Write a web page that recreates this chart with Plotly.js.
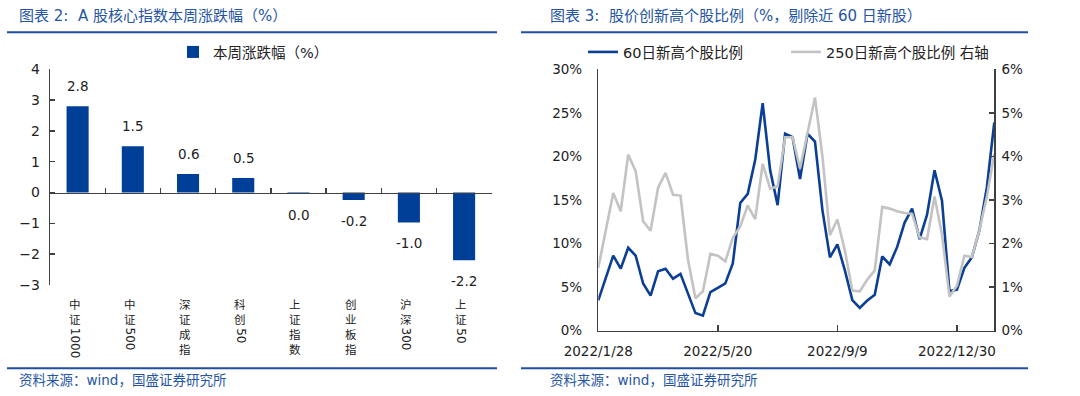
<!DOCTYPE html>
<html>
<head>
<meta charset="utf-8">
<script src="https://cdn.plot.ly/plotly-3.0.1.min.js"></script>
<style>
html,body{margin:0;padding:0;background:#fff;}
#chart{width:1080px;height:396px;}
</style>
</head>
<body>
<div id="chart"></div>
<script>
// ---------------- data ----------------
const indexNames = ['中证1000','中证500','深证成指','科创50','上证指数','创业板指','沪深300','上证50'];
const weeklyChange = [2.8, 1.5, 0.6, 0.47, -0.04, -0.24, -0.97, -2.2];

const weekDates = [
 '2022/1/28','2022/2/4','2022/2/11','2022/2/18','2022/2/25','2022/3/4','2022/3/11','2022/3/18','2022/3/25',
 '2022/4/1','2022/4/8','2022/4/15','2022/4/22','2022/4/29','2022/5/6','2022/5/13','2022/5/20','2022/5/27',
 '2022/6/3','2022/6/10','2022/6/17','2022/6/24','2022/7/1','2022/7/8','2022/7/15','2022/7/22','2022/7/29',
 '2022/8/5','2022/8/12','2022/8/19','2022/8/26','2022/9/2','2022/9/9','2022/9/16','2022/9/23','2022/9/30',
 '2022/10/7','2022/10/14','2022/10/21','2022/10/28','2022/11/4','2022/11/11','2022/11/18','2022/11/25',
 '2022/12/2','2022/12/9','2022/12/16','2022/12/23','2022/12/30','2023/1/6','2023/1/13','2023/1/20',
 '2023/2/3','2023/2/10'];
const dateTickLabels = ['2022/1/28','2022/5/20','2022/9/9','2022/12/30'];

// 60日新高个股比例 (%), left axis
const newHigh60 = [3.45,6.0,8.6,7.1,9.5,8.6,5.4,4.0,6.8,7.1,5.95,6.5,4.2,2.0,1.7,4.4,4.9,5.4,7.7,
 14.65,15.7,19.6,26.1,18.4,14.4,22.6,22.2,17.4,22.6,21.7,13.8,8.4,9.9,6.9,3.5,2.6,3.45,4.1,8.5,
 7.6,9.6,12.4,14.0,10.5,13.3,18.4,14.9,4.5,4.7,7.2,8.4,11.5,16.4,23.9];
// 250日新高个股比例 (%), right axis
const newHigh250 = [1.44,2.3,3.16,2.74,4.04,3.66,2.51,2.29,3.28,3.62,3.12,3.10,1.63,0.74,0.90,1.76,1.72,1.59,2.13,
 2.39,2.87,2.56,3.83,3.26,3.31,4.44,4.44,3.72,4.5,5.35,4.0,2.19,2.55,1.84,0.92,0.90,1.17,1.38,2.84,
 2.8,2.74,2.7,2.68,2.14,2.1,3.08,2.2,0.78,1.03,1.72,1.69,2.3,3.07,4.06];

// ---------------- style ----------------
const W = 1080, H = 396;
const FONT = 'DejaVu Sans, Noto Sans CJK SC, sans-serif';
const CJK = 'Noto Sans CJK SC, DejaVu Sans, sans-serif';
const BAR_BLUE = '#003f98';
const LINE_BLUE = '#0b3f95';
const GRAY = '#c3c3c3';
const AXIS = '#404040';
const TITLE_BLUE = '#2656a3';
const px = v => v / W;
const py = v => 1 - v / H;

const yDomL = [py(285), py(69.3)];
const yRangeL = [-3, 4];
const zeroPos = yDomL[0] + (0 - yRangeL[0]) / (yRangeL[1] - yRangeL[0]) * (yDomL[1] - yDomL[0]);

const traces = [
  {type:'bar', x:indexNames, y:weeklyChange, xaxis:'x', yaxis:'y', width:0.4,
   marker:{color:BAR_BLUE}, name:'本周涨跌幅（%）', legend:'legend', hoverinfo:'skip'},
  {type:'scatter', mode:'lines', x:weekDates, y:newHigh60, xaxis:'x2', yaxis:'y2',
   line:{color:LINE_BLUE, width:2.6}, name:'60日新高个股比例', legend:'legend2'},
  {type:'scatter', mode:'lines', x:weekDates, y:newHigh250, xaxis:'x2', yaxis:'y3',
   line:{color:GRAY, width:2.6}, name:'250日新高个股比例 右轴', legend:'legend2'}
];

const annotations = [];
// titles and sources
annotations.push({text:'图表 2:  A 股核心指数本周涨跌幅（%）', xref:'paper', yref:'paper', x:px(17), y:py(16),
  xanchor:'left', yanchor:'middle', showarrow:false, font:{family:FONT, size:15, color:TITLE_BLUE}});
annotations.push({text:'图表 3:  股价创新高个股比例（%，剔除近 60 日新股）', xref:'paper', yref:'paper', x:px(548), y:py(16),
  xanchor:'left', yanchor:'middle', showarrow:false, font:{family:FONT, size:15, color:TITLE_BLUE}});
annotations.push({text:'资料来源：wind，国盛证券研究所', xref:'paper', yref:'paper', x:px(17), y:py(380),
  xanchor:'left', yanchor:'middle', showarrow:false, font:{family:FONT, size:13.5, color:TITLE_BLUE}});
annotations.push({text:'资料来源：wind，国盛证券研究所', xref:'paper', yref:'paper', x:px(548), y:py(380),
  xanchor:'left', yanchor:'middle', showarrow:false, font:{family:FONT, size:13.5, color:TITLE_BLUE}});

// bar value labels
weeklyChange.forEach((v, i) => {
  const lbl = Math.abs(v) < 0.05 ? '0.0' : v.toFixed(1);
  annotations.push({text:lbl, x:indexNames[i], y:v, xref:'x', yref:'y', showarrow:false,
    yanchor: v >= 0 ? 'bottom' : 'top', yshift: v >= 0 ? 10 : -11,
    font:{family:FONT, size:13.5, color:'#222'}});
});

// vertical category labels: CJK chars stacked upright, digits rotated
indexNames.forEach(name => {
  const m = name.match(/^([^0-9]*)([0-9]*)$/);
  const cjk = m[1].split('');
  const num = m[2];
  const lineH = 14.95;
  annotations.push({text:cjk.join('<br>'), x:name, xref:'x', y:py(294), yref:'paper',
    xanchor:'center', yanchor:'top', showarrow:false, xshift:-3,
    font:{family:CJK, size:11.5, color:'#222'}});
  if (num) {
    annotations.push({text:num, x:name, xref:'x', y:py(296 + cjk.length * lineH), yref:'paper',
      xanchor:'center', yanchor:'top', textangle:90, showarrow:false, xshift:-3,
      font:{family:FONT, size:12, color:'#222'}});
  }
});

const shapes = [
  {type:'line', xref:'paper', yref:'paper', x0:px(7), x1:px(497), y0:py(32.3), y1:py(32.3), line:{color:'#1f50a0', width:2}},
  {type:'line', xref:'paper', yref:'paper', x0:px(521), x1:px(1028), y0:py(32.3), y1:py(32.3), line:{color:'#1f50a0', width:2}},
  {type:'line', xref:'paper', yref:'paper', x0:px(7), x1:px(497), y0:py(368.3), y1:py(368.3), line:{color:'#1f50a0', width:2}},
  {type:'line', xref:'paper', yref:'paper', x0:px(521), x1:px(1028), y0:py(368.3), y1:py(368.3), line:{color:'#1f50a0', width:2}}
];

const layout = {
  width:W, height:H, margin:{l:0,r:0,t:0,b:0,pad:0},
  paper_bgcolor:'#fff', plot_bgcolor:'rgba(0,0,0,0)',
  font:{family:FONT, size:13.5, color:'#222'},
  hovermode:false,
  xaxis:{domain:[px(50), px(491.7)], type:'category', anchor:'free', position:zeroPos,
    range:[-0.5, 7.5], showline:true, linecolor:AXIS, linewidth:1.4, ticks:'inside', tickson:'boundaries',
    ticklen:5, tickcolor:AXIS, tickwidth:1.4, showticklabels:false, showgrid:false, zeroline:false, fixedrange:true},
  yaxis:{domain:yDomL, anchor:'x', range:yRangeL, dtick:1, tick0:0, showline:true, linecolor:AXIS, linewidth:1.4,
    ticks:'inside', ticklen:5, tickcolor:AXIS, tickwidth:1.4, showgrid:false, zeroline:false,
    tickfont:{family:FONT, size:14, color:'#222'}, ticklabelstandoff:6, fixedrange:true},
  xaxis2:{domain:[px(598.3), px(994.3)], anchor:'y2', type:'category', range:[0, 53],
    tickmode:'array', tickvals:dateTickLabels, ticktext:dateTickLabels,
    showline:true, linecolor:AXIS, linewidth:1.4, ticks:'inside', ticklen:6, tickcolor:AXIS, tickwidth:1.4,
    showgrid:false, zeroline:false, tickfont:{family:FONT, size:13.5, color:'#222'}, ticklabelstandoff:8, fixedrange:true},
  yaxis2:{domain:[py(330.5), py(69.3)], anchor:'x2', range:[0, 30], dtick:5, ticksuffix:'%',
    showline:true, linecolor:AXIS, linewidth:1.4, ticks:'', showgrid:false, zeroline:false,
    tickfont:{family:FONT, size:13.5, color:'#222'}, ticklabelstandoff:12, fixedrange:true},
  yaxis3:{overlaying:'y2', side:'right', anchor:'x2', range:[0, 6], dtick:1, ticksuffix:'%',
    showline:true, linecolor:AXIS, linewidth:1.4, ticks:'inside', ticklen:5, tickcolor:AXIS, tickwidth:1.4,
    showgrid:false, zeroline:false, tickfont:{family:FONT, size:13.5, color:'#222'}, ticklabelstandoff:3, fixedrange:true},
  legend:{x:px(173), xanchor:'left', y:py(52), yanchor:'middle', orientation:'h',
    font:{family:FONT, size:14.5, color:'#222'}, bgcolor:'rgba(0,0,0,0)'},
  legend2:{x:px(583), xanchor:'left', y:py(52), yanchor:'middle', orientation:'h',
    entrywidth:158, entrywidthmode:'pixels',
    font:{family:FONT, size:14.5, color:'#222'}, bgcolor:'rgba(0,0,0,0)'},
  annotations:annotations,
  shapes:shapes,
  showlegend:true
};

Plotly.newPlot('chart', traces, layout, {staticPlot:true, displayModeBar:false});
</script>
</body>
</html>
